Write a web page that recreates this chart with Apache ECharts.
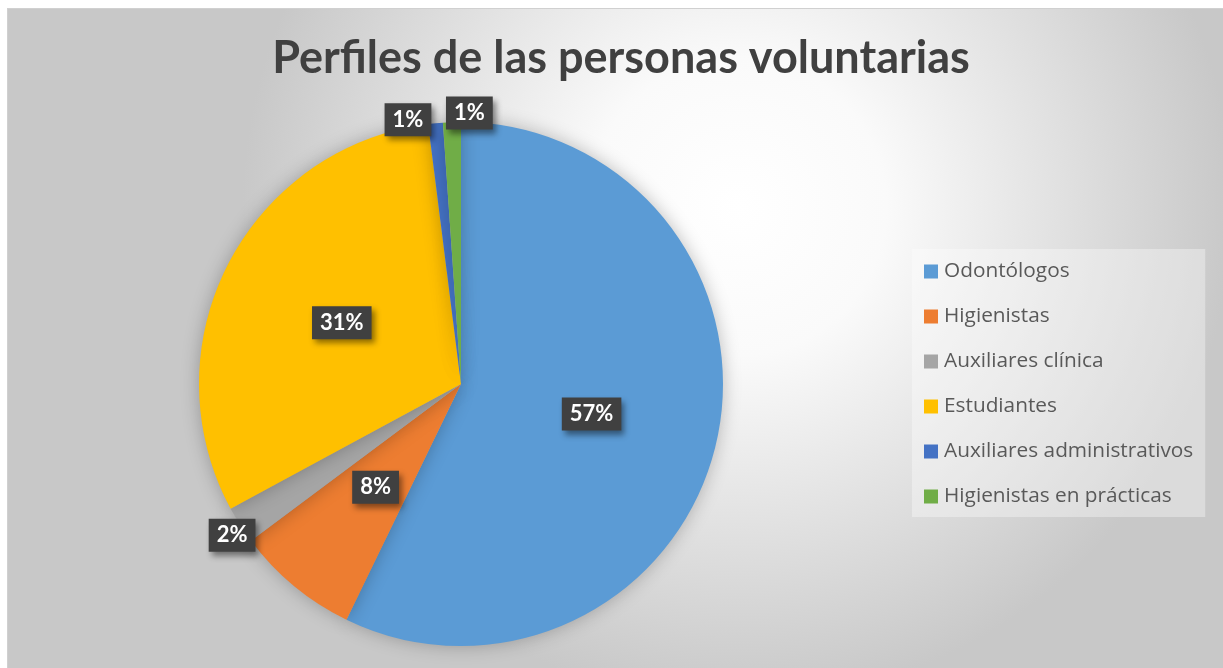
<!DOCTYPE html>
<html>
<head>
<meta charset="utf-8">
<script src="https://cdn.jsdelivr.net/npm/echarts@6/dist/echarts.min.js"></script>
<style>
  html, body { margin: 0; padding: 0; background: #ffffff; overflow: hidden; }
  #container { position: absolute; left: 7px; top: 8px; width: 1216px; height: 660px; border-top: 1px solid #d0d0d0; border-left: 1px solid #d0d0d0; }
</style>
</head>
<body>
<div id="container"></div>
<script>
var categories = ['Odontólogos', 'Higienistas', 'Auxiliares clínica', 'Estudiantes', 'Auxiliares administrativos', 'Higienistas en prácticas'];
var values = [57.2, 7.6, 2.3, 30.9, 0.9, 1.1];
var colors = ['#5B9BD5', '#ED7D31', '#A5A5A5', '#FFC000', '#4472C4', '#70AD47'];

// small slices get their labels pushed to the rim
var labelOffsets = {
  2: [-116, 79],
  4: [-40, -131],
  5: [13, -137]
};

var dom = document.getElementById('container');
var myChart = echarts.init(dom, null, { renderer: 'canvas' });

var labelStyle = {
  show: true,
  position: 'inside',
  formatter: function (p) { return Math.round(p.percent) + '%'; },
  color: '#ffffff',
  fontFamily: 'Lato, "Open Sans", sans-serif',
  fontWeight: 'bold',
  fontSize: 22,
  backgroundColor: '#404040',
  padding: [6, 8, 5, 8],
  shadowColor: 'rgba(0,0,0,0.45)',
  shadowBlur: 6,
  shadowOffsetX: 3,
  shadowOffsetY: 4
};

var seriesData = categories.map(function (name, i) {
  var item = { name: name, value: values[i], itemStyle: { color: colors[i] } };
  if (labelOffsets[i]) {
    item.label = { offset: labelOffsets[i] };
  }
  return item;
});

var option = {
  backgroundColor: {
    type: 'radial', x: 0.6, y: 0.3, r: 0.75,
    colorStops: [
      { offset: 0, color: '#ffffff' },
      { offset: 0.3, color: '#fafafa' },
      { offset: 1, color: '#c8c8c8' }
    ]
  },
  title: {
    text: 'Perfiles de las personas voluntarias',
    left: 608,
    top: 22,
    textAlign: 'center',
    textStyle: {
      fontFamily: 'Lato, "Open Sans", sans-serif',
      fontWeight: 'bold',
      fontSize: 45,
      color: '#404040'
    }
  },
  legend: {
    orient: 'vertical',
    left: 904,
    top: 240,
    padding: [12, 12, 10, 12],
    backgroundColor: 'rgba(255,255,255,0.35)',
    icon: 'rect',
    itemWidth: 14,
    itemHeight: 14,
    itemGap: 24,
    textStyle: {
      fontFamily: '"Open Sans", sans-serif',
      fontSize: 20.8,
      color: '#595959',
      padding: [0, 0, 0, 1]
    },
    data: categories
  },
  series: [
    {
      type: 'pie',
      center: [453, 375],
      radius: [0, 262],
      startAngle: 90,
      clockwise: true,
      avoidLabelOverlap: false,
      label: labelStyle,
      labelLine: { show: false },
      itemStyle: {
        shadowColor: 'rgba(0,0,0,0.25)',
        shadowBlur: 18
      },
      emphasis: { disabled: true },
      data: seriesData
    }
  ]
};

myChart.setOption(option);
window.addEventListener('resize', myChart.resize);
</script>
</body>
</html>
